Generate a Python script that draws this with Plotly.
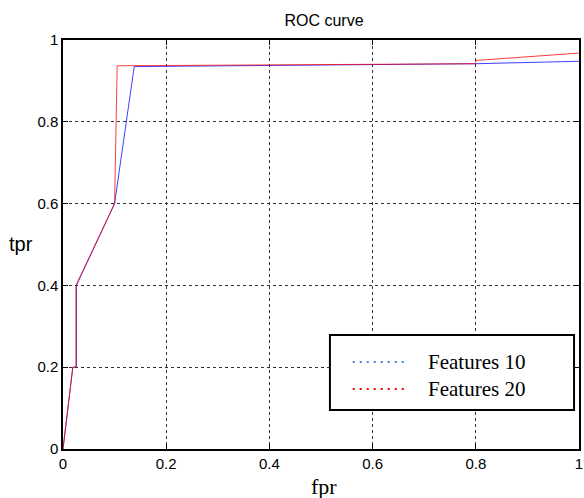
import plotly.graph_objects as go

fpr10 = [0, 0.019, 0.026, 0.026, 0.1, 0.138, 0.8, 1.0]
tpr10 = [0, 0.2, 0.2, 0.4, 0.6, 0.935, 0.942, 0.948]
fpr20 = [0, 0.019, 0.025, 0.025, 0.1, 0.105, 0.8, 0.8, 1.0]
tpr20 = [0, 0.2, 0.2, 0.4, 0.6, 0.937, 0.942, 0.95, 0.968]
names = ["Features 10", "Features 20"]
colors = ["#0000ff", "#ff0000"]
legend_colors = ["#4a86d8", "#ff0000"]
ticks = [0, 0.2, 0.4, 0.6, 0.8, 1]
tick_text = ["0", "0.2", "0.4", "0.6", "0.8", "1"]

# screen pixel -> paper coordinate helpers (page margin removed below)
L, T, W, H = 63, 40, 520, 409
FIG_W, FIG_H = 584, 498


def px(sx):
    return (sx - L) / W


def py(sy):
    return (T + H - sy) / H


fig = go.Figure()
for xs, ys, c, n in [(fpr10, tpr10, colors[0], names[0]), (fpr20, tpr20, colors[1], names[1])]:
    fig.add_trace(go.Scatter(x=xs, y=ys, mode="lines", name=n, line=dict(color=c, width=1),
                             opacity=0.75, showlegend=False))

axis_common = dict(range=[0, 1], tickvals=ticks, ticktext=tick_text,
                   showline=True, linecolor="black", linewidth=1.5, mirror="ticks",
                   ticks="inside", ticklen=5, tickcolor="black",
                   showgrid=True, gridcolor="#333333", griddash="dot", gridwidth=1,
                   zeroline=False, ticklabeloverflow="allow",
                   tickfont=dict(family="Liberation Sans", size=15, color="black"))

shapes = [dict(type="rect", xref="paper", yref="paper", x0=px(332), x1=px(578), y0=py(410), y1=py(335),
               line=dict(color="black", width=2), fillcolor="white", layer="above")]
annotations = []
for i, (n, c) in enumerate(zip(names, legend_colors)):
    yy = 362 + 27 * i
    shapes.append(dict(type="line", xref="paper", yref="paper", x0=px(355), x1=px(410), y0=py(yy), y1=py(yy),
                       line=dict(color=c, width=2, dash="2px,5px"), layer="above"))
    annotations.append(dict(text=n, xref="paper", yref="paper", x=px(429), y=py(yy), showarrow=False,
                            xanchor="left", yanchor="middle",
                            font=dict(family="Liberation Serif", size=21, color="black")))

annotations += [
    dict(text="tpr", xref="paper", yref="paper", x=px(21), y=py(244),
         showarrow=False, xanchor="center", yanchor="middle",
         font=dict(family="Liberation Sans", size=20, color="black")),
    dict(text="fpr", xref="paper", yref="paper", x=px(326), y=py(486),
         showarrow=False, xanchor="center", yanchor="middle",
         font=dict(family="Liberation Serif", size=22, color="black")),
]

fig.update_layout(
    width=FIG_W, height=FIG_H,
    margin=dict(l=L, r=FIG_W - L - W, t=T, b=FIG_H - T - H),
    paper_bgcolor="white", plot_bgcolor="white",
    title=dict(text="ROC curve", x=324 / FIG_W, xanchor="center", y=1 - 20 / FIG_H,
               yanchor="middle", font=dict(family="Liberation Sans", size=16, color="black")),
    xaxis=axis_common,
    yaxis=axis_common,
    showlegend=False,
    shapes=shapes,
    annotations=annotations,
)
fig.write_html("out.html", config={"displayModeBar": False},
               post_script="document.body.style.margin='0';document.body.style.overflow='hidden';")
